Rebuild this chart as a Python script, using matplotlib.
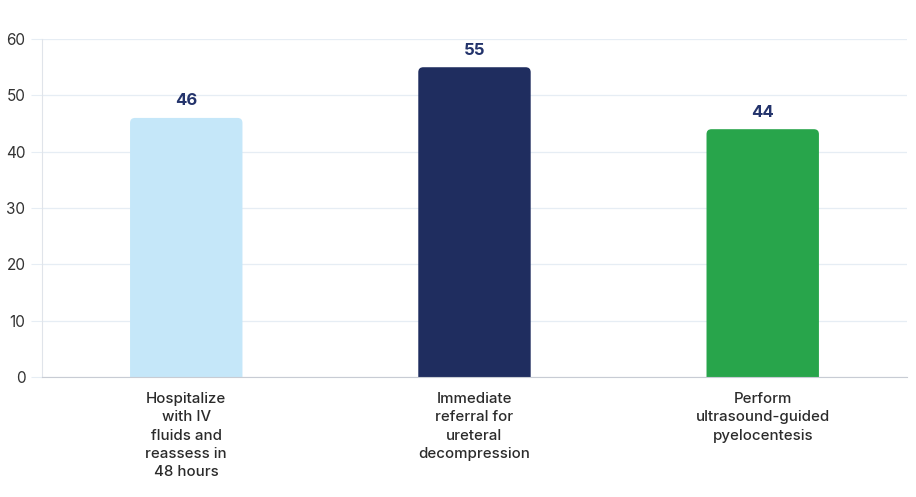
import matplotlib
matplotlib.use("Agg")
import matplotlib.pyplot as plt
from matplotlib.patches import FancyBboxPatch

plt.rcParams['font.family'] = ['Inter', 'DejaVu Sans']

# Chart data
categories = [
    "Hospitalize\nwith IV\nfluids and\nreassess in\n48 hours",
    "Immediate\nreferral for\nureteral\ndecompression",
    "Perform\nultrasound-guided\npyelocentesis",
]
values = [46, 55, 44]
colors = ["#c5e7f9", "#1f2d5f", "#28a54b"]
y_ticks = [0, 10, 20, 30, 40, 50, 60]

fig = plt.figure(figsize=(9.16, 4.97), dpi=100)
ax = fig.add_axes([0.046, 0.2414, 0.944, 0.680])

x = list(range(len(categories)))
bars = ax.bar(x, values, width=0.39, color=colors, zorder=2)

ax.set_xlim(-0.5, len(categories) - 0.5)
ax.set_ylim(0, 60)

# swap plain bars for ones with rounded tops
px_per_x = 864 / 3.0
px_per_y = 338 / 60.0
aspect = px_per_x / px_per_y
radius = 5 / px_per_x
for b, c in zip(bars, colors):
    b.set_visible(False)
    rb = FancyBboxPatch((b.get_x(), -3), b.get_width(), b.get_height() + 3,
                        boxstyle=f"round,pad=0,rounding_size={radius}",
                        mutation_aspect=aspect, facecolor=c, edgecolor="none",
                        zorder=2, clip_on=True)
    ax.add_patch(rb)

for xi, v in zip(x, values):
    ax.text(xi, v + 1.7, str(v), ha="center", va="bottom", fontsize=12,
            fontweight="bold", color="#23336b")

ax.set_yticks(y_ticks)
ax.set_xticks(x)
ax.set_xticklabels(categories, fontsize=10.8, color="#2b2b2b",
                   linespacing=1.38, fontweight=500)
ax.tick_params(axis="x", length=0, pad=11)
ax.tick_params(axis="y", length=8, color="#e6edf4", labelsize=11,
               labelcolor="#333333", pad=4)

ax.grid(axis="y", color="#e6edf4", linewidth=0.9, zorder=0)
ax.set_axisbelow(True)
for s in ["top", "right"]:
    ax.spines[s].set_visible(False)
ax.spines["left"].set_color("#e0e4ea")
ax.spines["bottom"].set_color("#c8ccd4")

fig.savefig("out.png", dpi=100)
